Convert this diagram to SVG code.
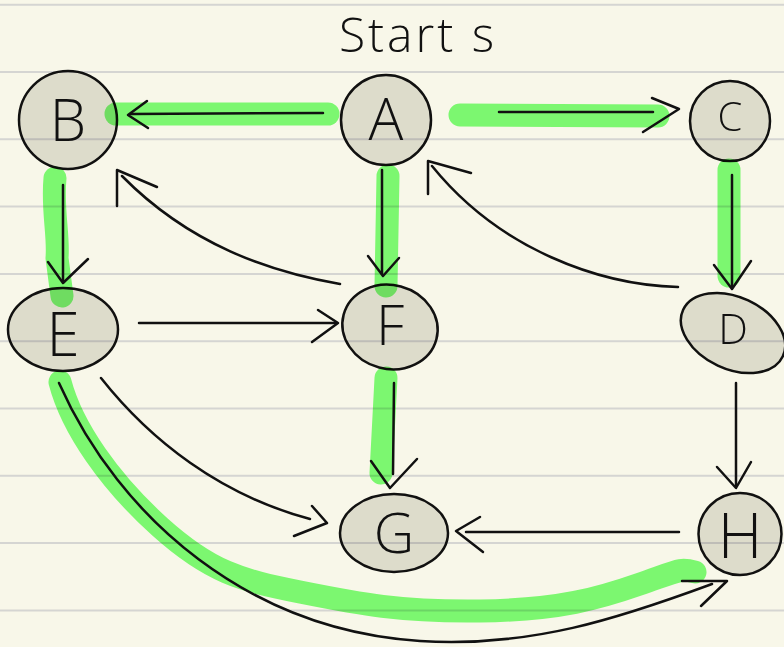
<svg xmlns="http://www.w3.org/2000/svg" width="784" height="647" viewBox="0 0 784 647">
  <style>
    .rule { stroke: #d5d5d2; stroke-width: 2; }
    .node { fill: #e4e3df; stroke: #111; stroke-width: 2.5; mix-blend-mode: multiply; }
    .label { font-family: "Open Sans", "Liberation Sans", sans-serif; font-weight: 300; fill: #111; text-anchor: middle; }
    .hl { fill: none; stroke: #80ff7a; stroke-width: 23; stroke-linecap: round; stroke-linejoin: round; }
    .edge { fill: none; stroke: #111; stroke-width: 2.5; stroke-linecap: round; stroke-linejoin: round; }
  </style>

  <!-- paper -->
  <rect width="784" height="647" fill="#f8f7e9"/>
  <g id="ruling">
    <line class="rule" x1="0" y1="4.7" x2="784" y2="4.7"/>
    <line class="rule" x1="0" y1="72" x2="784" y2="72"/>
    <line class="rule" x1="0" y1="139.3" x2="784" y2="139.3"/>
    <line class="rule" x1="0" y1="206.6" x2="784" y2="206.6"/>
    <line class="rule" x1="0" y1="273.9" x2="784" y2="273.9"/>
    <line class="rule" x1="0" y1="341.2" x2="784" y2="341.2"/>
    <line class="rule" x1="0" y1="408.5" x2="784" y2="408.5"/>
    <line class="rule" x1="0" y1="475.8" x2="784" y2="475.8"/>
    <line class="rule" x1="0" y1="543.1" x2="784" y2="543.1"/>
    <line class="rule" x1="0" y1="610.4" x2="784" y2="610.4"/>
  </g>

  <text class="label" x="418" y="52" font-size="48" letter-spacing="3">Start s</text>

  <!-- nodes -->
  <g id="node-B"><circle class="node" cx="68" cy="120" r="49"/><text class="label" x="68" y="141" font-size="58">B</text></g>
  <g id="node-A"><ellipse class="node" cx="386" cy="120" rx="45" ry="45"/><text class="label" x="386" y="140" font-size="58">A</text></g>
  <g id="node-C"><circle class="node" cx="730" cy="121" r="40"/><text class="label" x="730" y="131" font-size="40">C</text></g>
  <g id="node-E"><ellipse class="node" cx="63" cy="329.5" rx="55" ry="41.5"/><text class="label" x="63" y="356" font-size="60">E</text></g>
  <g id="node-F"><ellipse class="node" cx="390" cy="327" rx="48" ry="42" transform="rotate(15 390 327)"/><text class="label" x="390" y="345" font-size="56">F</text></g>
  <g id="node-D"><ellipse class="node" cx="733" cy="333" rx="55" ry="36" transform="rotate(25 733 333)"/><text class="label" x="733" y="344" font-size="42">D</text></g>
  <g id="node-G"><ellipse class="node" cx="394" cy="533" rx="54" ry="39"/><text class="label" x="394" y="553" font-size="56">G</text></g>
  <g id="node-H"><ellipse class="node" cx="740" cy="534" rx="41.5" ry="41"/><text class="label" x="740" y="558" font-size="62">H</text></g>

  <!-- highlighted traversal -->
  <g id="highlight" style="mix-blend-mode: multiply">
    <path class="hl" d="M116,114 L328,114"/>
    <path class="hl" d="M460,115 L658,116"/>
    <path class="hl" d="M388,176 L386,286"/>
    <path class="hl" d="M729,170 L729,276"/>
    <path class="hl" d="M55,178 C 52,210 59,235 57,258 L 62,296"/>
    <path class="hl" d="M386,378 L381,473"/>
    <path class="hl" d="M60,382 C 72,428 110,482 160,527 S 240,580 300,592 S 400,612 480,611 S 600,598 640,584 S 680,568 695,572"/>
  </g>

  <!-- connectors -->
  <g id="connectors">
    <!-- A to B -->
    <path class="edge" d="M323,113 L131,114"/>
    <path class="edge" d="M147,101 L128,115 L148,128"/>
    <!-- A to C -->
    <path class="edge" d="M499,112 L653,112"/>
    <path class="edge" d="M652,98 L679,109 L643,132"/>
    <!-- A to F -->
    <path class="edge" d="M382,170 L382,274"/>
    <path class="edge" d="M368,256 L383,276 L399,258"/>
    <!-- B to E -->
    <path class="edge" d="M63,185 L63,281"/>
    <path class="edge" d="M48,262 L63,283 L88,259"/>
    <!-- C to D -->
    <path class="edge" d="M732,175 L732,287"/>
    <path class="edge" d="M714,265 L732,289 L751,261"/>
    <!-- F to B -->
    <path class="edge" d="M340,284 C 270,272 190,245 122,176"/>
    <path class="edge" d="M117,206 L117,170 L157,187"/>
    <!-- D to A -->
    <path class="edge" d="M678,287 C 600,285 500,250 432,166"/>
    <path class="edge" d="M428,194 L428,161 L471,173"/>
    <!-- E to F -->
    <path class="edge" d="M139,323 L336,323"/>
    <path class="edge" d="M318,310 L338,323 L312,342"/>
    <!-- F to G -->
    <path class="edge" d="M394,383 L393,474"/>
    <path class="edge" d="M371,461 L390,488 L417,459"/>
    <!-- E to G -->
    <path class="edge" d="M101,378 C 150,440 220,495 310,519"/>
    <path class="edge" d="M312,506 L327,523 L294,536"/>
    <!-- D to H -->
    <path class="edge" d="M736,383 L736,486"/>
    <path class="edge" d="M717,467 L736,488 L751,462"/>
    <!-- H to G -->
    <path class="edge" d="M679,532 L466,532"/>
    <path class="edge" d="M480,517 L456,531 L483,552"/>
    <!-- E to H -->
    <path class="edge" d="M59,383 C 120,520 250,630 420,641 C 530,648 620,618 712,584"/>
    <path class="edge" d="M682,581 L727,581 L701,606"/>
  </g>
</svg>
